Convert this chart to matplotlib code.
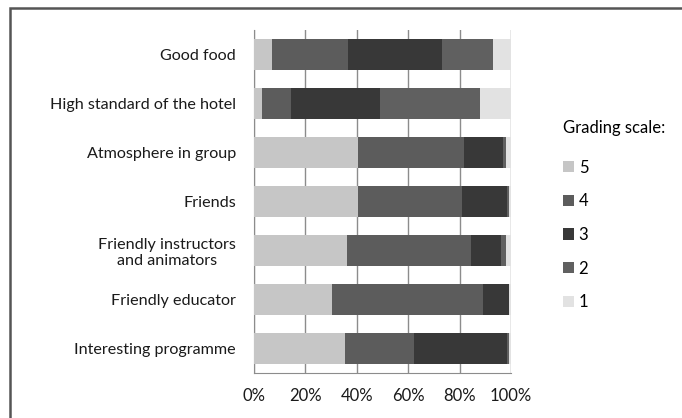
import numpy as np
import matplotlib.pyplot as plt
from matplotlib.patches import Rectangle

plt.rcParams['font.family'] = ['Lato', 'DejaVu Sans']

# categories listed top to bottom
categories = ["Good food", "High standard of the hotel", "Atmosphere in group",
              "Friends", "Friendly instructors\nand animators", "Friendly educator",
              "Interesting programme"]
grades = ["5", "4", "3", "2", "1"]

# share of answers (%) per grade
grade5 = [7.0, 3.0, 40.5, 40.5, 36.0, 30.2, 35.3]
grade4 = [29.7, 11.3, 41.3, 40.6, 48.4, 59.0, 27.0]
grade3 = [36.6, 34.7, 15.2, 17.2, 11.5, 9.9, 36.0]
grade2 = [19.8, 39.0, 1.0, 0.7, 2.1, 0.0, 0.7]
grade1 = [6.9, 12.0, 2.0, 1.0, 2.0, 0.9, 1.0]

colors = ["#c6c6c6", "#5c5c5c", "#383838", "#606060", "#e2e2e2"]

fig = plt.figure(figsize=(6.82, 4.18), dpi=100)
ax = fig.add_axes([0.3724, 0.108, 0.377, 0.82])

y = np.arange(len(categories))
left = np.zeros(len(categories))
for vals, col, lab in zip([grade5, grade4, grade3, grade2, grade1], colors, grades):
    ax.barh(y, vals, left=left, height=0.63, color=col, label=lab, zorder=3)
    left += np.array(vals)

ax.set_xlim(0, 100)
ax.set_ylim(len(categories) - 0.5, -0.5)
ax.set_xticks(np.arange(0, 101, 20))
ax.set_xticklabels([f"{v}%" for v in range(0, 101, 20)])
ax.set_yticks(y)
ax.set_yticklabels(categories, ha="right", multialignment="center")
ax.tick_params(axis="both", length=0, labelsize=12, colors="#1a1a1a")
ax.tick_params(axis="y", labelsize=11.6, pad=13)
ax.tick_params(axis="x", pad=11)
ax.grid(axis="x", color="#8c8c8c", linewidth=1, zorder=0)
for s in ["top", "right"]:
    ax.spines[s].set_visible(False)
for s in ["left", "bottom"]:
    ax.spines[s].set_color("#8c8c8c")

leg = ax.legend(title="Grading scale:", loc="upper left",
                bbox_to_anchor=(0.813, 0.733), bbox_transform=fig.transFigure,
                frameon=False, fontsize=12, title_fontsize=12,
                handlelength=0.65, handleheight=0.65, handletextpad=0.3,
                labelspacing=1.06, borderpad=0)
leg._legend_box.align = "left"
leg._legend_box.sep = 17  # a bit more room under the title

fig.patches.append(Rectangle((0.015, -0.1), 1.1, 1.08, transform=fig.transFigure,
                             fill=False, edgecolor="#555555", linewidth=1.8))

fig.savefig("out.png", dpi=100)
